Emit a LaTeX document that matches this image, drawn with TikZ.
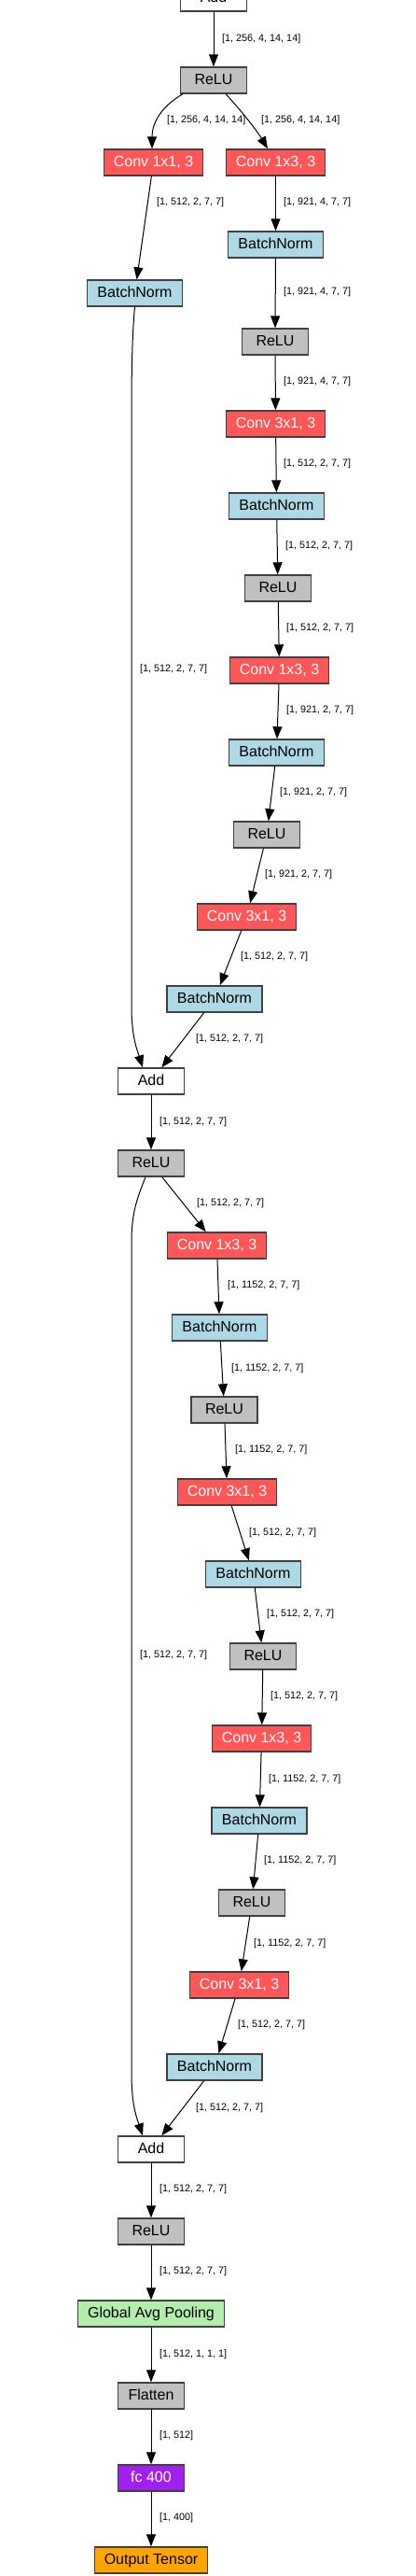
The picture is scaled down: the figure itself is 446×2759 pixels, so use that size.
\documentclass[tikz,border=0pt]{standalone}
\usepackage{fontspec}
\setmainfont{Liberation Sans}
\usetikzlibrary{arrows.meta}

\definecolor{convred}{RGB}{255,87,87}
\definecolor{bnblue}{RGB}{173,216,230}
\definecolor{relugray}{RGB}{192,192,192}
\definecolor{poolgreen}{RGB}{176,238,170}
\definecolor{fcpurple}{RGB}{160,32,240}
\definecolor{outorange}{RGB}{255,165,0}
\definecolor{borderdark}{RGB}{64,64,64}

\begin{document}
\begin{tikzpicture}[x=1pt, y=-1pt,
		layer/.style={draw=borderdark, line width=1.4pt, minimum height=28pt, inner sep=0pt,
			text height=12pt, text depth=2.6pt, font=\fontsize{16}{18}\selectfont},
		addbox/.style={layer, fill=white, minimum width=71pt},
		relubox/.style={layer, fill=relugray, minimum width=71pt},
		convbox/.style={layer, fill=convred, text=white, minimum width=106pt},
		bnbox/.style={layer, fill=bnblue, minimum width=102pt},
		shapelabel/.style={anchor=west, inner sep=0pt, text=black, font=\fontsize{10.8}{12}\selectfont},
		flow/.style={line width=1pt, -{Triangle[length=13pt, width=10pt]}}]
		\useasboundingbox (0,0) rectangle (446,2759);
		
		% first block
		\node[addbox] (add0) at (229,-2) {Add};
		\node[relubox] (relu1) at (229,86) {ReLU};
		\node[convbox] (conv11) at (164.5,174) {Conv 1x1, 3};
		\node[convbox] (conv13a) at (295.5,174) {Conv 1x3, 3};
		\node[bnbox] (bnS1) at (144.5,314) {BatchNorm};
		\node[bnbox] (bn1a) at (295.5,262) {BatchNorm};
		\node[relubox] (relu1a) at (295,366) {ReLU};
		\node[convbox] (conv31a) at (295.5,454) {Conv 3x1, 3};
		\node[bnbox] (bn1b) at (296.5,542) {BatchNorm};
		\node[relubox] (relu1b) at (298,630) {ReLU};
		\node[convbox] (conv13b) at (299.5,718) {Conv 1x3, 3};
		\node[bnbox] (bn1c) at (296.5,806) {BatchNorm};
		\node[relubox] (relu1c) at (286,894) {ReLU};
		\node[convbox] (conv31b) at (264.5,982) {Conv 3x1, 3};
		\node[bnbox] (bn1d) at (230,1070) {BatchNorm};
		\node[addbox] (add1) at (162,1158) {Add};
		
		% second block
		\node[relubox] (relu2) at (162,1246) {ReLU};
		\node[convbox] (conv13c) at (232.5,1334) {Conv 1x3, 3};
		\node[bnbox] (bn2a) at (235.5,1422) {BatchNorm};
		\node[relubox] (relu2a) at (240.5,1510) {ReLU};
		\node[convbox] (conv31c) at (243.5,1598) {Conv 3x1, 3};
		\node[bnbox] (bn2b) at (271.5,1686) {BatchNorm};
		\node[relubox] (relu2b) at (282,1774) {ReLU};
		\node[convbox] (conv13d) at (280.5,1862) {Conv 1x3, 3};
		\node[bnbox] (bn2c) at (278,1950) {BatchNorm};
		\node[relubox] (relu2c) at (270,2038) {ReLU};
		\node[convbox] (conv31d) at (256.5,2126) {Conv 3x1, 3};
		\node[bnbox] (bn2d) at (230,2214) {BatchNorm};
		\node[addbox] (add2) at (162,2302) {Add};
		
		% head
		\node[relubox] (relu3) at (162,2390) {ReLU};
		\node[layer, fill=poolgreen, minimum width=157pt] (gap) at (162,2478) {Global Avg Pooling};
		\node[relubox] (flat) at (162,2566) {Flatten};
		\node[layer, fill=fcpurple, text=white, minimum width=71pt] (fc) at (162,2654) {fc 400};
		\node[layer, fill=outorange, minimum width=121pt] (out) at (162,2742) {Output Tensor};
		
		% straight connectors
		\foreach \a/\b in {add0/relu1, conv11/bnS1, conv13a/bn1a, bn1a/relu1a, relu1a/conv31a,
			conv31a/bn1b, bn1b/relu1b, relu1b/conv13b, conv13b/bn1c, bn1c/relu1c, relu1c/conv31b,
			conv31b/bn1d, bn1d/add1, add1/relu2, relu2/conv13c, conv13c/bn2a, bn2a/relu2a,
			relu2a/conv31c, conv31c/bn2b, bn2b/relu2b, relu2b/conv13d, conv13d/bn2c, bn2c/relu2c,
			relu2c/conv31d, conv31d/bn2d, bn2d/add2, add2/relu3, relu3/gap, gap/flat, flat/fc, fc/out}
		{
			\draw[flow] (\a) -- (\b);
		}
		
		% branches and shortcuts
		\draw[flow] ([xshift=-33pt]relu1.south) .. controls +(-26,15) and +(0,-25) .. ([xshift=-1.5pt]conv11.north);
		\draw[flow] ([xshift=13pt]relu1.south) .. controls +(16,17) and +(-12,-20) .. ([xshift=-8.5pt]conv13a.north);
		\draw[flow] (bnS1.south) .. controls +(-3,32) and +(0,-50) .. ++(-3.5,122) -- ++(0,627)
			.. controls +(0,33) and +(-6,-19) .. ([xshift=-9pt]add1.north);
		\draw[flow] ([xshift=-6pt]relu2.south) .. controls +(-10,25) and +(0,-30) .. ++(-15,70) -- ++(0,890)
			.. controls +(0,35) and +(-6,-18) .. ([xshift=-9pt]add2.north);
		
		% tensor shapes
		\foreach \lx/\ly/\ltext [count=\i] in {238/42/{[1, 256, 4, 14, 14]}, 179/129/{[1, 256, 4, 14, 14]},
			280/129/{[1, 256, 4, 14, 14]}, 168/217/{[1, 512, 2, 7, 7]}, 304/217/{[1, 921, 4, 7, 7]},
			304/313/{[1, 921, 4, 7, 7]}, 304/409/{[1, 921, 4, 7, 7]}, 304/497/{[1, 512, 2, 7, 7]},
			306/585/{[1, 512, 2, 7, 7]}, 307/673/{[1, 512, 2, 7, 7]}, 150/717/{[1, 512, 2, 7, 7]},
			307/761/{[1, 921, 2, 7, 7]}, 300/849/{[1, 921, 2, 7, 7]}, 284/937/{[1, 921, 2, 7, 7]},
			258/1025/{[1, 512, 2, 7, 7]}, 210/1113/{[1, 512, 2, 7, 7]}, 171/1202/{[1, 512, 2, 7, 7]},
			211/1289/{[1, 512, 2, 7, 7]}, 244/1377/{[1, 1152, 2, 7, 7]}, 248/1466/{[1, 1152, 2, 7, 7]},
			252/1553/{[1, 1152, 2, 7, 7]}, 267/1642/{[1, 512, 2, 7, 7]}, 286/1729/{[1, 512, 2, 7, 7]},
			150/1773/{[1, 512, 2, 7, 7]}, 290/1817/{[1, 512, 2, 7, 7]}, 288/1906/{[1, 1152, 2, 7, 7]},
			283/1993/{[1, 1152, 2, 7, 7]}, 272/2082/{[1, 1152, 2, 7, 7]}, 255/2169/{[1, 512, 2, 7, 7]},
			210/2258/{[1, 512, 2, 7, 7]}, 171/2345/{[1, 512, 2, 7, 7]}, 171/2433/{[1, 512, 2, 7, 7]},
			171/2522/{[1, 512, 1, 1, 1]}, 171/2609/{[1, 512]}, 171/2697/{[1, 400]}}
		{
			\node[shapelabel] (shape\i) at (\lx,\ly) {\ltext};
		}
		
	\end{tikzpicture}
\end{document}
